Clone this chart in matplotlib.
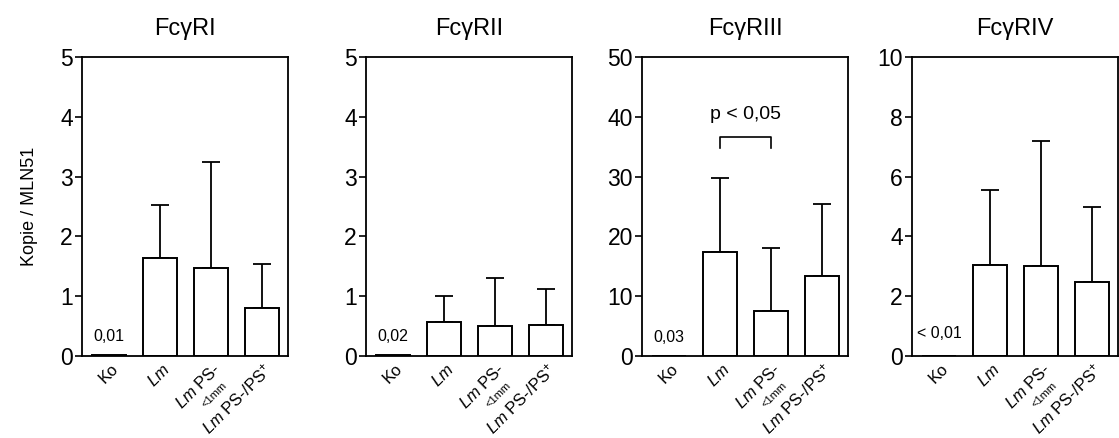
import numpy as np
import matplotlib
matplotlib.use('Agg')
import matplotlib.pyplot as plt
import matplotlib.transforms as mtransforms


plt.rcParams['font.family'] = ['Liberation Sans', 'DejaVu Sans']
plt.rcParams['mathtext.fontset'] = 'custom'
plt.rcParams['mathtext.rm'] = 'Liberation Sans'
plt.rcParams['mathtext.it'] = 'Liberation Sans:italic'
plt.rcParams['mathtext.default'] = 'regular'

groups = ['Ko', r'$\it{Lm}$', r'$\it{Lm}$ PS-', r'$\it{Lm}$ PS-/PS$^{+}$']

titles = ['Fc\u03b3RI', 'Fc\u03b3RII', 'Fc\u03b3RIII', 'Fc\u03b3RIV']

# mean and upper SD per receptor
fcr1_mean = [0.01, 1.64, 1.47, 0.80]
fcr1_sd = [0.0, 0.88, 1.77, 0.74]
fcr2_mean = [0.02, 0.57, 0.50, 0.52]
fcr2_sd = [0.0, 0.44, 0.81, 0.60]
fcr3_mean = [0.03, 17.4, 7.6, 13.3]
fcr3_sd = [0.0, 12.4, 10.5, 12.2]
fcr4_mean = [0.0, 3.05, 3.00, 2.47]
fcr4_sd = [0.0, 2.50, 4.18, 2.51]

ymax = [5, 5, 50, 10]
ystep = [1, 1, 10, 2]
ko_text = [None, None, None, '< 0,01']

means = [fcr1_mean, fcr2_mean, fcr3_mean, fcr4_mean]
sds = [fcr1_sd, fcr2_sd, fcr3_sd, fcr4_sd]

lefts = [82, 366, 642, 912]
width_px = 206
W, H = 1119, 438

fig = plt.figure(figsize=(W / 100, H / 100), dpi=100)

x = np.arange(len(groups))
for i in range(4):
    ax = fig.add_axes([lefts[i] / W, 1 - 356 / H, width_px / W, 299 / H])
    m = np.array(means[i])
    s = np.array(sds[i])
    ax.bar(x, m, width=0.66, color='white', edgecolor='black', linewidth=1.4, zorder=2)
    ax.errorbar(x[1:], m[1:], yerr=[np.zeros(3), s[1:]], fmt='none', ecolor='black',
                elinewidth=1.3, capsize=6.5, capthick=1.3, zorder=1)

    ax.set_xlim(-0.52, 3.5)
    ax.set_ylim(0, ymax[i])
    ax.set_yticks(np.arange(0, ymax[i] + ystep[i] / 2, ystep[i]))
    ax.tick_params(axis='y', direction='out', length=5, width=1.2, labelsize=16.5, pad=1.5)
    ax.tick_params(axis='x', length=0, labelsize=12)
    for sp in ax.spines.values():
        sp.set_linewidth(1.3)

    ax.set_xticks(x)
    ax.set_xticklabels(groups, rotation=45, ha='right', va='center', rotation_mode='anchor')
    shift = mtransforms.ScaledTranslation(5 / 72, -4 / 72, fig.dpi_scale_trans)
    for lab in ax.get_xticklabels():
        lab.set_transform(lab.get_transform() + shift)

    # subscript under "Lm PS-"
    tr = mtransforms.blended_transform_factory(ax.transData, ax.transAxes)
    ax.annotate('<1mm', xy=(2, 0), xycoords=tr, xytext=(2, -28), textcoords='offset points',
                rotation=45, fontsize=8, ha='center', va='center', annotation_clip=False)

    # value of the control bar
    if ko_text[i] is None:
        ax.annotate(f'{m[0]:.2f}'.replace('.', ','), xy=(0, m[0]), xytext=(0, 8),
                    textcoords='offset points', ha='center', va='bottom', fontsize=11.5)
    else:
        ax.text(-0.42, 0.05 * ymax[i], ko_text[i], ha='left', va='bottom', fontsize=11.5)

    ax.set_title(titles[i], fontsize=17, pad=16)
    if i == 0:
        ax.set_ylabel('Kopie / MLN51', fontsize=13, labelpad=16)

    if i == 2:
        yb = 36.7
        ax.plot([1, 1, 2, 2], [yb - 2, yb, yb, yb - 2], color='black', linewidth=1.2)
        ax.text(1.5, 39, 'p < 0,05', ha='center', va='bottom', fontsize=14)

plt.savefig('out.png', dpi=100)
